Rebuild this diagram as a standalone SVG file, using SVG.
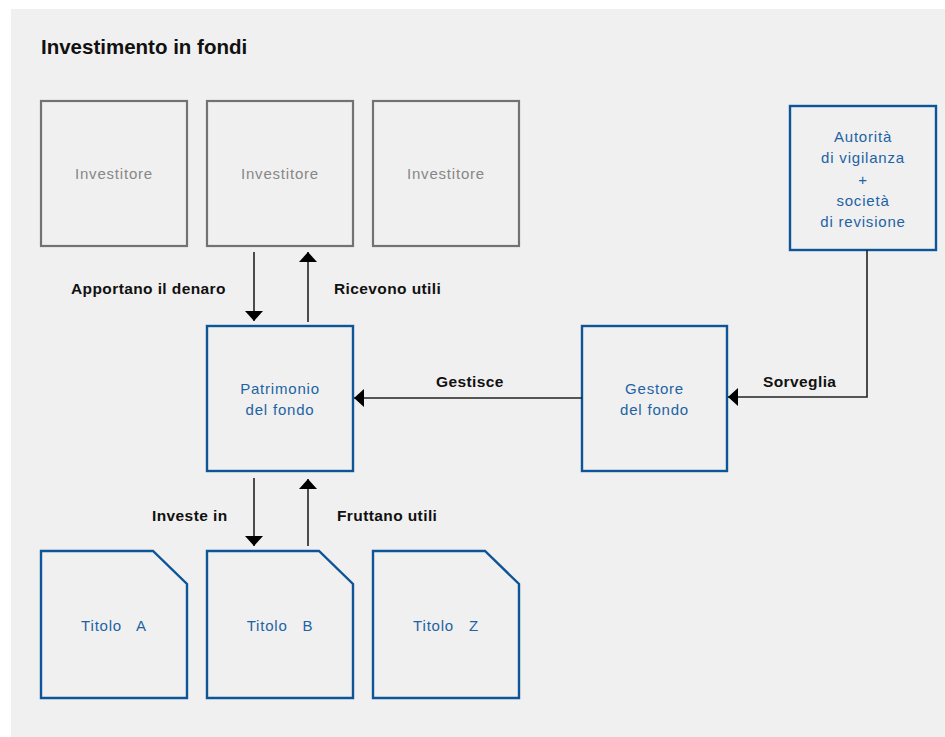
<svg xmlns="http://www.w3.org/2000/svg" width="945" height="737" viewBox="0 0 945 737">
<style>
.gbox{fill:none;stroke:#727272;stroke-width:2.2}
.bbox{fill:none;stroke:#0d5596;stroke-width:2.4}
.gt{font-family:"Liberation Sans",Arial,sans-serif;font-size:15px;fill:#878787;letter-spacing:0.8px;text-anchor:middle}
.bt{font-family:"Liberation Sans",Arial,sans-serif;font-size:15px;fill:#1d63a3;letter-spacing:0.8px;text-anchor:middle;white-space:pre}
.lbl{font-family:"Liberation Sans",Arial,sans-serif;font-size:15.5px;font-weight:bold;fill:#111;letter-spacing:0.4px}
.con{fill:none;stroke:#222;stroke-width:1.6;marker-end:url(#ah)}
</style>
<defs>
<marker id="ah" viewBox="0 0 10 18" refX="10" refY="9" markerWidth="10" markerHeight="18" orient="auto" markerUnits="userSpaceOnUse">
<path d="M0,0 L10,9 L0,18 Z" fill="#000"/>
</marker>
</defs>
<rect x="11" y="9" width="934" height="728" fill="#f0f0f0"/>
<text x="41" y="54" style="font-family:'Liberation Sans',Arial,sans-serif;font-size:20.5px;font-weight:bold;fill:#111">Investimento in fondi</text>

<g id="investitore1"><rect class="gbox" x="41" y="101" width="146" height="145"/><text class="gt" x="114" y="179">Investitore</text></g>
<g id="investitore2"><rect class="gbox" x="207" y="101" width="146" height="145"/><text class="gt" x="280" y="179">Investitore</text></g>
<g id="investitore3"><rect class="gbox" x="373" y="101" width="146" height="145"/><text class="gt" x="446" y="179">Investitore</text></g>

<g id="autorita"><rect class="bbox" x="790" y="106" width="146" height="144"/>
<text class="bt" x="863" y="142">Autorità</text>
<text class="bt" x="863" y="163">di vigilanza</text>
<text class="bt" x="863" y="185">+</text>
<text class="bt" x="863" y="206">società</text>
<text class="bt" x="863" y="227">di revisione</text></g>

<g id="patrimonio"><rect class="bbox" x="207" y="326" width="146" height="145"/>
<text class="bt" x="280" y="394">Patrimonio</text>
<text class="bt" x="280" y="415">del fondo</text></g>

<g id="gestore"><rect class="bbox" x="582" y="326" width="145" height="145"/>
<text class="bt" x="654.5" y="394">Gestore</text>
<text class="bt" x="654.5" y="415">del fondo</text></g>

<g id="titoloA"><path class="bbox" d="M41,551 H153 L187,584 V698 H41 Z"/><text class="bt" x="114" y="631">Titolo   A</text></g>
<g id="titoloB"><path class="bbox" d="M207,551 H319 L353,584 V698 H207 Z"/><text class="bt" x="280" y="631">Titolo   B</text></g>
<g id="titoloZ"><path class="bbox" d="M373,551 H485 L519,584 V698 H373 Z"/><text class="bt" x="446" y="631">Titolo   Z</text></g>

<g id="connectors">
<path class="con" d="M254,252 V321"/>
<path class="con" d="M308,322 V252"/>
<path class="con" d="M582,398 H354"/>
<path class="con" d="M867,250 V397 H728"/>
<path class="con" d="M254,478 V546"/>
<path class="con" d="M308,546 V479"/>
<text class="lbl" x="71" y="294">Apportano il denaro</text>
<text class="lbl" x="334" y="294">Ricevono utili</text>
<text class="lbl" x="436" y="387">Gestisce</text>
<text class="lbl" x="763" y="387">Sorveglia</text>
<text class="lbl" x="152" y="521">Investe in</text>
<text class="lbl" x="337" y="521">Fruttano utili</text>
</g>
</svg>
